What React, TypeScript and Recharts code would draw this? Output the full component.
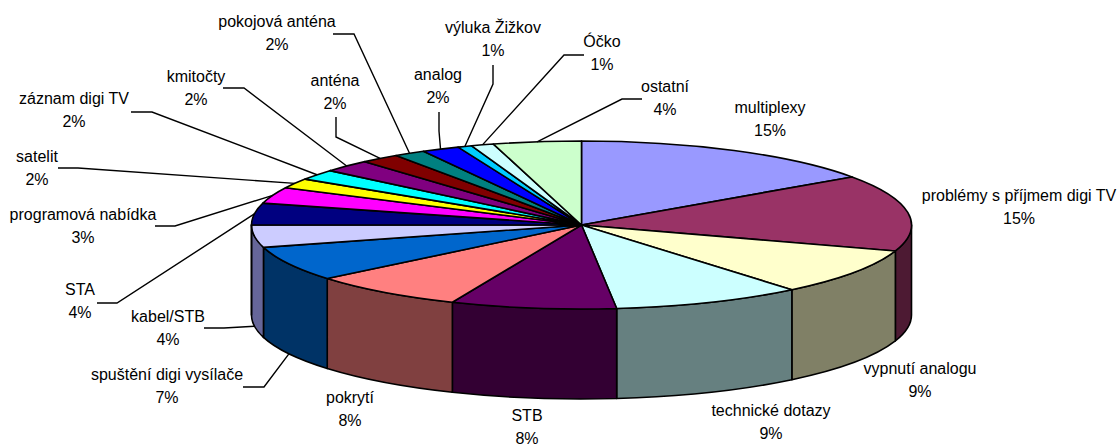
import React from "react";
import { PieChart, Pie, Cell } from "recharts";

const categories = ["multiplexy","problémy s příjmem digi TV","vypnutí analogu","technické dotazy","STB","pokrytí","spuštění digi vysílače","kabel/STB","STA","programová nabídka","satelit","záznam digi TV","kmitočty","anténa","pokojová anténa","analog","výluka Žižkov","Óčko","ostatní"];
const shares = [15.3,14.7,9,9.3,8.1,7.6,6.7,4.3,4.2,3.1,1.9,2,2.4,1.9,1.55,1.85,0.7,1.1,4.3];
const topColors = ["#9999FF","#993366","#FFFFCC","#CCFFFF","#660066","#FF8080","#0066CC","#CCCCFF","#000080","#FF00FF","#FFFF00","#00FFFF","#800080","#800000","#008080","#0000FF","#00CCFF","#CCFFFF","#CCFFCC"];
const sideColors = ["#4D4D80","#4D1A33","#808066","#668080","#330033","#804040","#003366","#666699","#000040","#800080","#808000","#008080","#400040","#400000","#004040","#000080","#006680","#668080","#668066"];

// label layout: text centre (x, first-line baseline) and leader start / elbow
const labelCentres: [number, number][] = [[770,113],[1019,201],[920,374],[771,416],[527,421],[350,403],[167,380],[168,322],[80,295],[83,220],[37,162],[74,104],[196,82],[335,86],[277,27],[438,80],[493,33],[602,47],[665,92]];
const leaderPaths: (null | [number, number, number, number])[] = [null,null,null,null,null,null,[243,387,264,387],[204,328,224,328],[97,303,117,303],[155,226,175,226],[58,168,78,168],[131,112,152,112],[223,88,244,88],[336,117,336,137],[333,34,354,34],[439,112,439,131],[493,65,493,84],[584,55,564,55],[642,99,622,99]];

const chartRows = categories.map((name, i) => ({ name, value: shares[i] }));

const CX = 581.5;
const CY = 225;
const RX = 330;
const RY = 84;
const DEPTH = 90;
const FONT = "'Liberation Sans', Arial, sans-serif";

const rim = (deg: number) => {
  const a = (deg * Math.PI) / 180;
  return { x: CX + RX * Math.cos(a), y: CY - RY * Math.sin(a) };
};

const SliceShape = (props: any) => {
  const { startAngle, endAngle, index } = props;
  const hi = Math.max(startAngle, endAngle);
  const lo = Math.min(startAngle, endAngle);
  const s = rim(hi);
  const e = rim(lo);
  const large = hi - lo > 180 ? 1 : 0;
  const wallHi = Math.min(hi, 0);
  const wallLo = Math.max(lo, -180);
  let wall: React.ReactNode = null;
  if (wallHi > wallLo) {
    const a = rim(wallHi);
    const b = rim(wallLo);
    wall = (
      <path
        d={`M${a.x},${a.y}A${RX},${RY} 0 0 1 ${b.x},${b.y}L${b.x},${b.y + DEPTH}A${RX},${RY} 0 0 0 ${a.x},${a.y + DEPTH}Z`}
        fill={sideColors[index]}
        stroke="#000"
        strokeWidth={1.6}
        strokeLinejoin="round"
      />
    );
  }
  return (
    <g>
      {wall}
      <path
        d={`M${CX},${CY}L${s.x},${s.y}A${RX},${RY} 0 ${large} 1 ${e.x},${e.y}Z`}
        fill={topColors[index]}
        stroke="#000"
        strokeWidth={1.6}
        strokeLinejoin="round"
      />
    </g>
  );
};

const SliceLabel = (props: any) => {
  const { index, midAngle, percent, name } = props;
  const [tx, ty] = labelCentres[index];
  const leader = leaderPaths[index];
  let line: React.ReactNode = null;
  if (leader) {
    const tip = rim(midAngle);
    const m = ((midAngle % 360) + 360) % 360;
    const front = m > 180 && m < 360;
    const tipY = tip.y + (front ? DEPTH : 0);
    line = (
      <polyline
        points={`${leader[0]},${leader[1]} ${leader[2]},${leader[3]} ${tip.x},${tipY}`}
        fill="none"
        stroke="#000"
        strokeWidth={1.4}
      />
    );
  }
  return (
    <g>
      {line}
      <text x={tx} y={ty} textAnchor="middle" fontFamily={FONT} fontSize={16} fill="#000">{name}</text>
      <text x={tx} y={ty + 23} textAnchor="middle" fontFamily={FONT} fontSize={16} fill="#000">{`${Math.round(percent * 100)}%`}</text>
    </g>
  );
};

export default function App() {
  return (
    <div style={{ position: "absolute", left: 0, top: 0, width: 1118, height: 446, background: "#fff", overflow: "hidden" }}>
      <PieChart width={1118} height={446} margin={{ top: 0, right: 0, bottom: 0, left: 0 }}>
        <Pie
          data={chartRows}
          dataKey="value"
          nameKey="name"
          cx={CX}
          cy={CY}
          outerRadius={RX}
          startAngle={90}
          endAngle={-270}
          isAnimationActive={false}
          shape={SliceShape}
          activeShape={SliceShape}
          label={SliceLabel}
          labelLine={false}
        >
          {chartRows.map((row, i) => (
            <Cell key={row.name} fill={topColors[i]} />
          ))}
        </Pie>
      </PieChart>
    </div>
  );
}
